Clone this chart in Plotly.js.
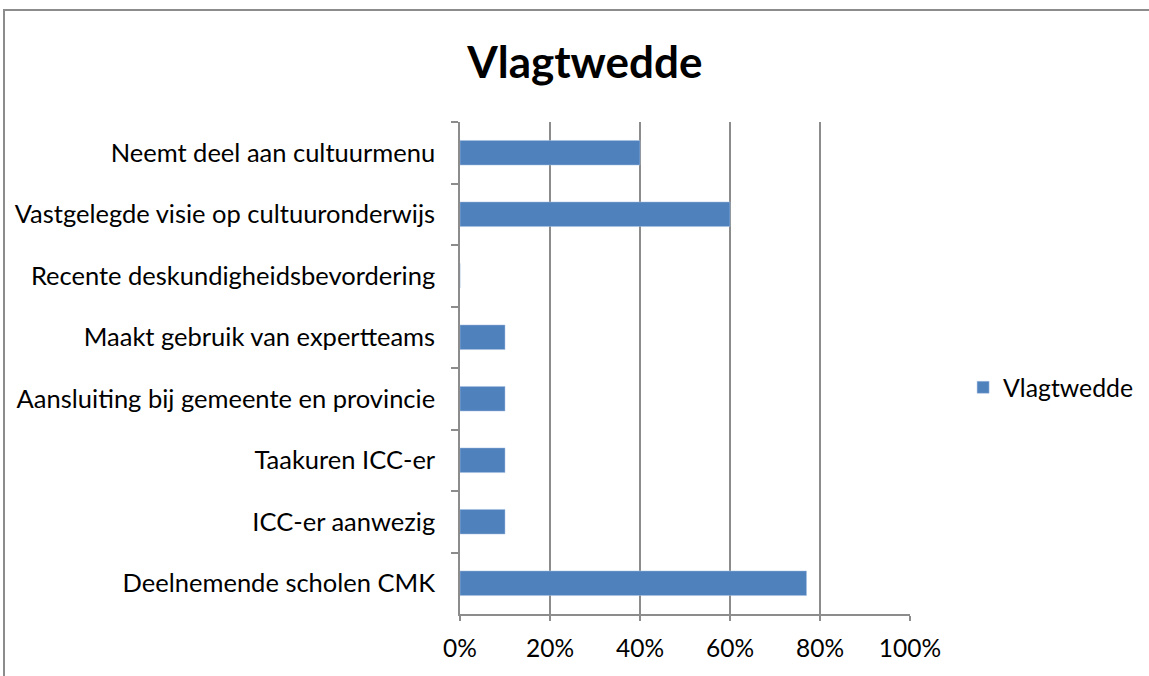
<!DOCTYPE html>
<html>
<head>
<meta charset="utf-8">
<script src="https://cdn.plot.ly/plotly-3.0.1.min.js"></script>
<style>
  html, body { margin: 0; padding: 0; background: #fff; }
  #frame { position: absolute; left: 3px; top: 9px; width: 1300px; height: 800px; border: 2px solid #8c8c8c; box-sizing: border-box; }
  #chart { position: absolute; left: 0; top: 0; width: 1149px; height: 676px; }
</style>
</head>
<body>
<div id="frame"></div>
<div id="chart"></div>
<script>
const categories = [
  "Neemt deel aan cultuurmenu",
  "Vastgelegde visie op cultuuronderwijs",
  "Recente deskundigheidsbevordering",
  "Maakt gebruik van expertteams",
  "Aansluiting bij gemeente en provincie",
  "Taakuren ICC-er",
  "ICC-er aanwezig",
  "Deelnemende scholen CMK"
];
const values = [0.40, 0.60, 0, 0.10, 0.10, 0.10, 0.10, 0.77];
const seriesName = "Vlagtwedde";
const xTicks = [0, 0.2, 0.4, 0.6, 0.8, 1.0];
const xTickLabels = ["0%", "20%", "40%", "60%", "80%", "100%"];

const font = "Lato, Open Sans, sans-serif";

Plotly.newPlot("chart", [{
  type: "bar",
  orientation: "h",
  y: categories,
  x: values,
  name: seriesName,
  marker: { color: "#4f81bd", line: { color: "#a8c0e0", width: 0.5 } },
  hoverinfo: "x+y"
}], {
  width: 1149,
  height: 676,
  paper_bgcolor: "rgba(0,0,0,0)",
  plot_bgcolor: "rgba(0,0,0,0)",
  margin: { l: 460, r: 239, t: 122, b: 62, autoexpand: false },
  bargap: 0.6,
  showlegend: true,
  title: {
    text: "<b>Vlagtwedde</b>",
    font: { family: font, size: 44, color: "#000" },
    x: 0.509, xanchor: "center",
    y: 0.907, yanchor: "middle"
  },
  legend: {
    x: 1.118, xanchor: "left",
    y: 0.46, yanchor: "middle",
    font: { family: font, size: 24.8, color: "#000" },
    itemwidth: 30,
    bgcolor: "rgba(0,0,0,0)"
  },
  xaxis: {
    range: [0, 1],
    tickvals: xTicks,
    ticktext: xTickLabels,
    showgrid: true,
    gridcolor: "#8c8c8c",
    gridwidth: 1.5,
    zeroline: false,
    showline: true,
    linecolor: "#8c8c8c",
    linewidth: 1.5,
    ticks: "outside",
    ticklen: 5,
    tickcolor: "#8c8c8c",
    tickwidth: 1.5,
    ticklabelstandoff: 7,
    tickfont: { family: font, size: 24.5, color: "#000" },
    automargin: false,
    fixedrange: true
  },
  yaxis: {
    type: "category",
    autorange: "reversed",
    tickson: "boundaries",
    ticks: "outside",
    ticklen: 7,
    tickcolor: "#8c8c8c",
    tickwidth: 1.5,
    showline: true,
    linecolor: "#8c8c8c",
    linewidth: 1.5,
    showgrid: false,
    ticklabelstandoff: 18,
    tickfont: { family: font, size: 25.5, color: "#000" },
    automargin: false,
    fixedrange: true
  }
}, { displayModeBar: false });
</script>
</body>
</html>
